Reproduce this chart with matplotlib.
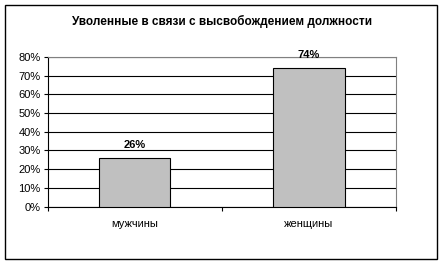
import matplotlib.pyplot as plt
import matplotlib.patches as patches
from matplotlib.ticker import MultipleLocator, PercentFormatter

categories = ['мужчины', 'женщины']
values = [26, 74]
title = 'Уволенные в связи с высвобождением должности'

plt.rcParams['font.family'] = ['Liberation Sans', 'DejaVu Sans']

fig = plt.figure(figsize=(4.44, 2.64), dpi=100)
ax = fig.add_axes([0.1074, 0.217, 0.7844, 0.568])

# outer chart border
fig.patches.append(patches.Rectangle((5 / 444, 5 / 264), 432 / 444, 254 / 264,
                                     transform=fig.transFigure, fill=False,
                                     edgecolor='black', linewidth=1.0))

x = list(range(len(categories)))
bars = ax.bar(x, values, width=0.41, color='#c0c0c0', edgecolor='black', linewidth=0.8, zorder=3)

for xi, v in zip(x, values):
    ax.text(xi, v + 4.5, f'{v}%', ha='center', va='bottom', fontsize=8, fontweight='bold',
            clip_on=False)

ax.set_xlim(-0.5, 1.5)
ax.set_ylim(0, 80)
ax.yaxis.set_major_locator(MultipleLocator(10))
ax.yaxis.set_major_formatter(PercentFormatter(decimals=0))
ax.grid(axis='y', color='black', linewidth=0.8, zorder=0)

ax.set_xticks([-0.5, 0.5, 1.5])
ax.set_xticklabels([])
ax.set_xticks(x, minor=True)
ax.set_xticklabels(categories, minor=True)
ax.tick_params(axis='x', which='minor', length=0, pad=9, labelsize=8)
ax.tick_params(axis='x', which='major', length=3, width=0.8, direction='out')
ax.tick_params(axis='y', length=3, width=0.8, direction='out', labelsize=8, pad=2)

for side in ['top', 'right']:
    ax.spines[side].set_color('#808080')
    ax.spines[side].set_linewidth(0.8)
for side in ['left', 'bottom']:
    ax.spines[side].set_color('black')
    ax.spines[side].set_linewidth(0.8)

fig.text(0.5, 1 - 21 / 264, title, ha='center', va='center', fontsize=8.5, fontweight='bold')

plt.savefig('out.png', dpi=100)
